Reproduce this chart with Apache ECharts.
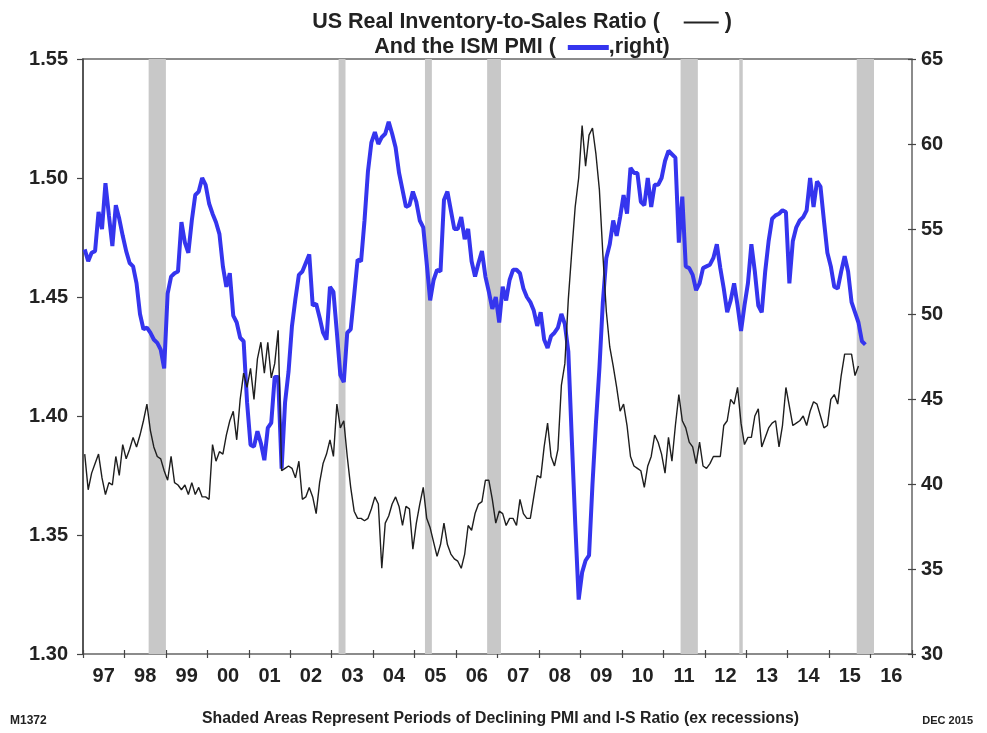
<!DOCTYPE html>
<html><head><meta charset="utf-8">
<script src="https://cdn.jsdelivr.net/npm/echarts@6/dist/echarts.min.js"></script>
<style>html,body{margin:0;padding:0;background:#fff}#c{width:987px;height:733px}</style>
</head><body><div id="c"></div>
<script>
// ---- data (monthly, starting Jan 1997) ----
const startYear = 1997;
const yearLabels = ['97','98','99','00','01','02','03','04','05','06','07','08','09','10','11','12','13','14','15','16'];

// ISM PMI (right axis)
const pmi = [
53.8,53.1,53.6,53.7,56.0,55.0,57.7,55.8,54.0,56.4,55.6,54.6,
53.7,53.0,52.8,51.8,50.0,49.1,49.2,48.9,48.5,48.3,47.9,46.8,
51.2,52.2,52.4,52.5,55.4,54.2,53.6,55.5,57.0,57.2,58.0,57.6,
56.5,55.9,55.4,54.7,52.8,51.6,52.4,49.9,49.5,48.6,48.4,44.8,
42.3,42.2,43.1,42.4,41.4,43.3,43.6,46.3,46.3,40.9,44.8,46.6,
49.3,50.9,52.3,52.5,53.0,53.5,50.5,50.6,49.8,48.9,48.5,51.6,
51.3,48.9,46.4,46.0,48.9,49.1,51.1,53.2,53.1,55.5,58.4,60.1,
60.7,60.0,60.4,60.6,61.3,60.6,59.8,58.3,57.3,56.3,56.4,57.2,
56.6,55.5,55.1,53.0,50.8,52.0,52.6,52.5,56.7,57.2,56.1,55.0,
55.0,55.7,54.4,55.0,53.1,52.2,53.0,53.7,52.2,51.3,50.3,51.0,
49.5,51.6,50.8,52.0,52.6,52.6,52.4,51.5,51.0,50.7,50.2,49.3,
50.1,48.5,48.0,48.7,48.9,49.2,50.0,49.4,47.8,42.7,37.7,33.2,
34.8,35.5,35.8,40.0,43.6,46.8,50.7,53.3,54.1,55.5,54.6,55.7,
57.0,55.9,58.6,58.3,58.3,56.6,56.4,58.0,56.3,57.6,57.6,58.0,
59.0,59.6,59.4,59.2,54.2,56.9,52.8,52.7,52.3,51.4,51.8,52.7,
52.8,52.9,53.3,54.1,52.7,51.5,50.1,50.8,51.8,50.5,49.0,50.5,
51.8,54.1,52.5,50.5,50.1,52.5,54.3,55.6,55.8,55.9,56.1,56.0,
51.8,54.3,55.1,55.5,55.7,56.1,58.0,56.3,57.8,57.5,55.5,53.6,
52.8,51.6,51.5,52.5,53.4,52.5,50.7,50.1,49.5,48.4,48.2
];

// US real inventory-to-sales ratio (left axis)
const invSales = [
1.384,1.369,1.376,1.380,1.384,1.374,1.367,1.372,1.371,1.383,1.375,1.388,
1.382,1.386,1.391,1.387,1.392,1.398,1.405,1.394,1.387,1.383,1.382,1.377,
1.373,1.383,1.372,1.371,1.369,1.371,1.367,1.372,1.367,1.370,1.366,1.366,
1.365,1.388,1.381,1.385,1.384,1.392,1.398,1.402,1.390,1.407,1.418,1.412,
1.420,1.407,1.424,1.431,1.418,1.431,1.416,1.422,1.436,1.377,1.378,1.379,
1.378,1.374,1.381,1.365,1.366,1.370,1.366,1.359,1.372,1.380,1.384,1.390,
1.383,1.405,1.395,1.398,1.383,1.370,1.360,1.357,1.357,1.356,1.357,1.361,
1.366,1.363,1.336,1.355,1.358,1.363,1.366,1.362,1.354,1.362,1.361,1.344,
1.355,1.363,1.370,1.357,1.353,1.347,1.341,1.346,1.355,1.346,1.342,1.340,
1.339,1.336,1.342,1.354,1.352,1.359,1.363,1.364,1.373,1.373,1.365,1.355,
1.360,1.359,1.354,1.357,1.357,1.354,1.365,1.359,1.357,1.357,1.366,1.375,
1.374,1.387,1.397,1.383,1.379,1.386,1.413,1.422,1.449,1.469,1.488,1.500,
1.522,1.505,1.518,1.521,1.510,1.495,1.468,1.444,1.429,1.421,1.412,1.402,
1.405,1.396,1.383,1.379,1.378,1.377,1.370,1.379,1.383,1.392,1.389,1.384,
1.376,1.391,1.381,1.396,1.409,1.398,1.395,1.389,1.387,1.380,1.389,1.379,
1.378,1.380,1.383,1.383,1.383,1.396,1.398,1.407,1.405,1.412,1.397,1.388,
1.391,1.391,1.400,1.403,1.387,1.391,1.395,1.397,1.398,1.387,1.396,1.412,
1.404,1.396,1.397,1.398,1.400,1.396,1.402,1.406,1.405,1.400,1.395,1.396,
1.407,1.409,1.405,1.417,1.426,1.426,1.426,1.417,1.421
];

// Periods of declining PMI and I-S ratio (first month, last month)
const shadedPeriods = [
  ['1998-08','1998-12'],
  ['2003-03','2003-04'],
  ['2005-04','2005-05'],
  ['2006-10','2007-01'],
  ['2011-06','2011-10'],
  ['2012-11','2012-11'],
  ['2015-09','2016-01']
];

const leftTicks = {min: 1.30, max: 1.55, interval: 0.05};
const rightTicks = {min: 30, max: 65, interval: 5};

// ---- build ----
const toPairs = arr => arr.map((v, i) => [startYear + (i + 0.5) / 12, v]);
const ym = (s, end) => { const [y, m] = s.split('-').map(Number); return y + (end ? m : m - 1) / 12; };
const areas = shadedPeriods.map(p => [{xAxis: ym(p[0], false)}, {xAxis: ym(p[1], true)}]);

const FONT = 'Liberation Sans, Arial, sans-serif';
const BLUE = '#3535ee';
const chart = echarts.init(document.getElementById('c'), null, {renderer: 'canvas'});
chart.setOption({
  animation: false,
  backgroundColor: '#fff',
  title: {
    text: 'US Real Inventory-to-Sales Ratio (    {k| } )\nAnd the ISM PMI (  {b| },right)',
    left: 522, top: 10, padding: 0, textAlign: 'center',
    textStyle: {
      fontFamily: FONT, fontSize: 21.5, fontWeight: 'bold', color: '#222', lineHeight: 25,
      rich: {
        k: {width: 35, height: 2, backgroundColor: '#222', fontSize: 21.5, lineHeight: 25},
        b: {width: 41, height: 5, backgroundColor: BLUE, fontSize: 21.5, lineHeight: 25}
      }
    }
  },
  grid: {left: 83, right: 75, top: 59, bottom: 79, show: true, borderColor: '#666', borderWidth: 1.5, backgroundColor: 'transparent'},
  xAxis: [
    {
      type: 'category', data: yearLabels, boundaryGap: true, position: 'bottom', offset: 4,
      axisLine: {show: false},
      axisTick: {show: true, inside: true, length: 8, interval: 0, lineStyle: {color: '#444', width: 1.2}},
      axisLabel: {interval: 0, fontFamily: FONT, fontSize: 20, fontWeight: 'bold', color: '#222', margin: 8},
      splitLine: {show: false}
    },
    {type: 'value', min: startYear, max: startYear + 20, show: false, splitLine: {show: false}}
  ],
  yAxis: [
    {
      type: 'value', position: 'left', min: leftTicks.min, max: leftTicks.max, interval: leftTicks.interval,
      axisLine: {show: true, lineStyle: {color: '#444', width: 1.5}},
      axisTick: {show: true, inside: false, length: 6, lineStyle: {color: '#444', width: 1.2}},
      axisLabel: {fontFamily: FONT, fontSize: 20, fontWeight: 'bold', color: '#222', margin: 15, formatter: v => v.toFixed(2)},
      splitLine: {show: false}
    },
    {
      type: 'value', position: 'right', offset: 4, min: rightTicks.min, max: rightTicks.max, interval: rightTicks.interval,
      axisLine: {show: false},
      axisTick: {show: true, inside: true, length: 8, lineStyle: {color: '#444', width: 1.2}},
      axisLabel: {fontFamily: FONT, fontSize: 20, fontWeight: 'bold', color: '#222', margin: 5},
      splitLine: {show: false}
    }
  ],
  series: [
    {
      name: 'shade', type: 'line', xAxisIndex: 1, yAxisIndex: 0, data: [], z: 1, silent: true,
      markArea: {silent: true, itemStyle: {color: '#c8c8c8', opacity: 1}, data: areas}
    },
    {
      name: 'ISM PMI', type: 'line', xAxisIndex: 1, yAxisIndex: 1, data: toPairs(pmi), z: 3,
      showSymbol: false, lineStyle: {color: BLUE, width: 4}, itemStyle: {color: BLUE}
    },
    {
      name: 'Inventory-to-Sales', type: 'line', xAxisIndex: 1, yAxisIndex: 0, data: toPairs(invSales), z: 4,
      showSymbol: false, lineStyle: {color: '#1e1e1e', width: 1.4}, itemStyle: {color: '#1e1e1e'}
    }
  ],
  graphic: [
    {type: 'text', left: 10, top: 715, style: {text: 'M1372', font: 'bold 12px ' + FONT, fill: '#222'}},
    {type: 'text', left: 202, top: 711, style: {text: 'Shaded Areas Represent Periods of Declining PMI and I-S Ratio (ex recessions)', font: 'bold 15.8px ' + FONT, fill: '#222'}},
    {type: 'text', right: 14, top: 715, style: {text: 'DEC 2015', font: 'bold 11px ' + FONT, fill: '#222'}}
  ]
});
</script>
</body></html>
